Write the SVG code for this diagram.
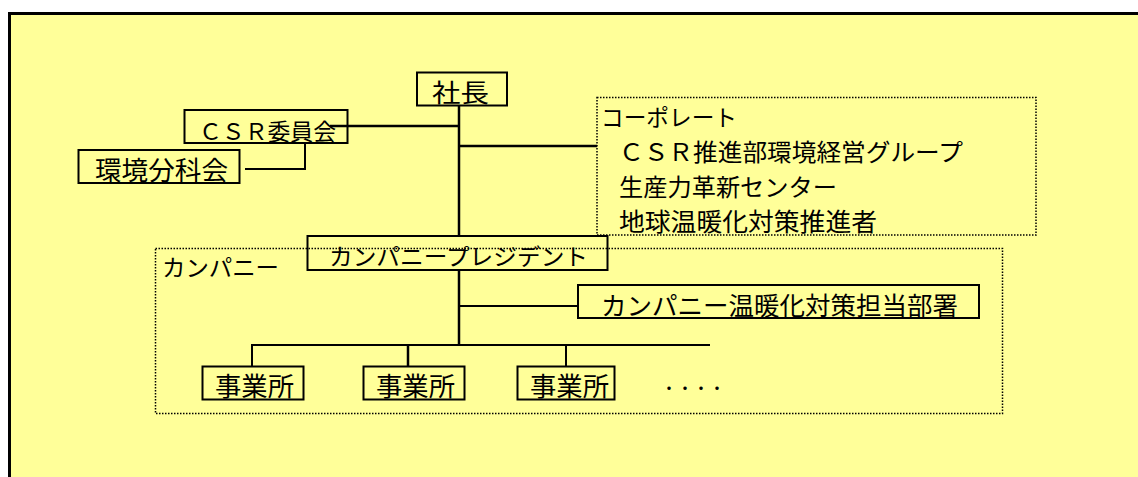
<svg xmlns="http://www.w3.org/2000/svg" width="1138" height="477" viewBox="0 0 1138 477">
<style>
text{font-family:"Noto Sans CJK JP","Noto Sans CJK SC",sans-serif;fill:#000}
.box{fill:none;stroke:#000;stroke-width:2}
.grp{fill:none;stroke:#000;stroke-width:1.5;stroke-dasharray:1.5 1.5}
.ln{fill:none;stroke:#000;stroke-width:2.5}
.ln2{fill:none;stroke:#000;stroke-width:2}
</style>
<rect x="0" y="0" width="1138" height="477" fill="#fff"/>
<rect id="frame" x="9.5" y="13.5" width="1200" height="500" fill="#FFFF99" stroke="#000" stroke-width="3"/>

<g id="group-corporate">
<rect class="grp" x="597" y="97.5" width="439" height="137.5"/>
<text x="601" y="126" font-size="23" textLength="136" lengthAdjust="spacingAndGlyphs">コーポレート</text>
<text x="619" y="161" font-size="24" textLength="344" lengthAdjust="spacingAndGlyphs">ＣＳＲ推進部環境経営グループ</text>
<text x="619" y="196" font-size="24" textLength="218" lengthAdjust="spacingAndGlyphs">生産力革新センター</text>
<text x="619" y="231" font-size="25" textLength="258" lengthAdjust="spacingAndGlyphs">地球温暖化対策推進者</text>
</g>

<g id="group-company">
<rect class="grp" x="155.5" y="248.5" width="847" height="165"/>
<text x="162" y="276" font-size="23" textLength="117" lengthAdjust="spacingAndGlyphs">カンパニー</text>
</g>

<g id="connectors">
<line class="ln" x1="459" y1="106" x2="459" y2="236"/>
<line class="ln" x1="330" y1="126" x2="459" y2="126"/>
<polyline class="ln2" points="245,169 305,169 305,143"/>
<line class="ln" x1="459" y1="146" x2="597" y2="146"/>
<line class="ln" x1="459" y1="270" x2="459" y2="345"/>
<line class="ln2" x1="459" y1="306" x2="578" y2="306"/>
<line class="ln2" x1="251" y1="345" x2="710" y2="345"/>
<line class="ln2" x1="252" y1="345" x2="252" y2="367"/>
<line class="ln" x1="408" y1="345" x2="408" y2="367"/>
<line class="ln2" x1="566" y1="345" x2="566" y2="367"/>
</g>

<g id="node-president">
<rect class="box" x="417" y="72.5" width="90" height="33"/>
<text x="432" y="102" font-size="25" textLength="57" lengthAdjust="spacingAndGlyphs">社長</text>
</g>

<g id="node-csr">
<rect class="box" x="184.5" y="110" width="163" height="33"/>
<text x="199" y="140" font-size="23" textLength="137" lengthAdjust="spacingAndGlyphs">ＣＳＲ委員会</text>
</g>

<g id="node-env">
<rect class="box" x="78.5" y="150" width="161" height="33"/>
<text x="95" y="180" font-size="26" textLength="133" lengthAdjust="spacingAndGlyphs">環境分科会</text>
</g>

<g id="node-company-president">
<rect class="box" x="307.5" y="236" width="300" height="34"/>
<text x="329" y="265" font-size="23" textLength="259" lengthAdjust="spacingAndGlyphs">カンパニープレジデント</text>
</g>

<g id="node-company-dept">
<rect class="box" x="578" y="285" width="401" height="33"/>
<text x="601" y="315" font-size="25" textLength="357" lengthAdjust="spacingAndGlyphs">カンパニー温暖化対策担当部署</text>
</g>

<g id="node-office1">
<rect class="box" x="202.5" y="366.5" width="101" height="33"/>
<text x="215" y="396" font-size="26" textLength="79" lengthAdjust="spacingAndGlyphs">事業所</text>
</g>
<g id="node-office2">
<rect class="box" x="363.5" y="366.5" width="101" height="33"/>
<text x="376" y="396" font-size="26" textLength="79" lengthAdjust="spacingAndGlyphs">事業所</text>
</g>
<g id="node-office3">
<rect class="box" x="517.5" y="366.5" width="97" height="33"/>
<text x="530" y="396" font-size="26" textLength="79" lengthAdjust="spacingAndGlyphs">事業所</text>
</g>

<text x="661" y="394" font-size="16" textLength="64" lengthAdjust="spacing">・・・・</text>
</svg>
